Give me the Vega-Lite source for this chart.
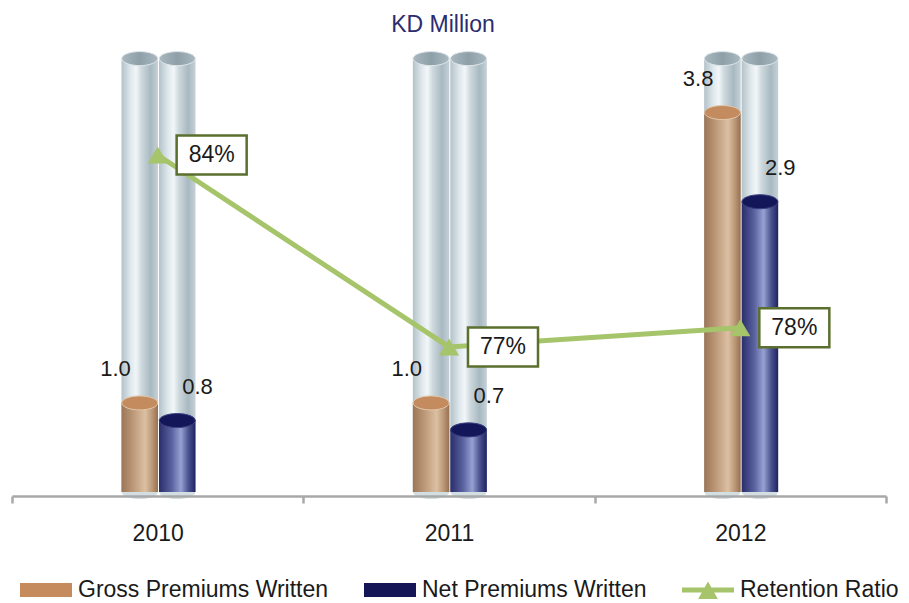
{
  "$schema": "https://vega.github.io/schema/vega-lite/v6.json",
  "width": 874,
  "height": 445,
  "autosize": "none",
  "padding": {"left": 12, "top": 47, "right": 23, "bottom": 111},
  "background": "white",
  "config": {"font": "Liberation Sans", "view": {"stroke": null}},
  "title": {"text": "KD Million", "fontSize": 23, "fontWeight": "normal", "color": "#2b2c6e", "anchor": "middle", "baseline": "alphabetic", "frame": "group", "offset": 14, "dx": -6, "dy": 22},
  "datasets": {
    "premiums": [
      {"year": "2010", "series": "Gross Premiums Written", "value": 1.0},
      {"year": "2010", "series": "Net Premiums Written", "value": 0.83},
      {"year": "2011", "series": "Gross Premiums Written", "value": 1.0},
      {"year": "2011", "series": "Net Premiums Written", "value": 0.74},
      {"year": "2012", "series": "Gross Premiums Written", "value": 3.8},
      {"year": "2012", "series": "Net Premiums Written", "value": 2.94}
    ],
    "retention": [
      {"year": "2010", "ratio": 0.84},
      {"year": "2011", "ratio": 0.77},
      {"year": "2012", "ratio": 0.777}
    ]
  },
  "layer": [
    {
      "data": {"name": "premiums"},
      "encoding": {
        "x": {"field": "year", "type": "nominal", "scale": {"paddingInner": 0, "paddingOuter": 0},
          "axis": {"title": null, "labelAngle": 0, "labelFontSize": 23, "labelColor": "#1a1a1a", "labelBaseline": "alphabetic", "labelPadding": 37, "domainColor": "#a8a8a8", "domainWidth": 2.5, "tickColor": "#a8a8a8", "tickWidth": 2.5, "tickSize": 7, "tickBand": "extent", "offset": 4, "zindex": 1}},
        "xOffset": {"field": "series", "type": "nominal", "scale": {"range": [109.5, 183.5], "paddingInner": 0.027, "paddingOuter": 0}}
      },
      "layer": [
        {
          "mark": {"type": "bar", "fill": {"gradient": "linear", "x1": 0, "y1": 0, "x2": 1, "y2": 0, "stops": [
            {"offset": 0, "color": "#b3c2c9"}, {"offset": 0.25, "color": "#dfe8ec"}, {"offset": 0.4, "color": "#f2f6f8"}, {"offset": 0.55, "color": "#ccd8dd"}, {"offset": 0.8, "color": "#a9b9c1"}, {"offset": 1, "color": "#c5d1d7"}]}},
          "encoding": {
            "y": {"datum": 4.32, "type": "quantitative", "scale": {"domain": [0.141, 4.432], "nice": false, "zero": false}, "axis": null},
            "y2": {"datum": 0.141}
          }
        },
        {
          "mark": {"type": "point", "shape": "M-1,0 C-1,-0.215 -0.552,-0.39 0,-0.39 C0.552,-0.39 1,-0.215 1,0 C1,0.215 0.552,0.39 0,0.39 C-0.552,0.39 -1,0.215 -1,0 Z", "size": 1296, "filled": true, "fill": "#d3dee3", "opacity": 1, "strokeWidth": 0},
          "encoding": {"y": {"datum": 0.141, "type": "quantitative"}}
        },
        {
          "mark": {"type": "point", "shape": "M-1,0 C-1,-0.215 -0.552,-0.39 0,-0.39 C0.552,-0.39 1,-0.215 1,0 C1,0.215 0.552,0.39 0,0.39 C-0.552,0.39 -1,0.215 -1,0 Z", "size": 1296, "filled": true, "opacity": 1, "stroke": "#dfe7ea", "strokeWidth": 1,
            "fill": {"gradient": "linear", "x1": 0, "y1": 0, "x2": 1, "y2": 0, "stops": [{"offset": 0, "color": "#a9b8bf"}, {"offset": 0.5, "color": "#8e9fa8"}, {"offset": 1, "color": "#aab9c0"}]}},
          "encoding": {"y": {"datum": 4.32, "type": "quantitative"}}
        },
        {
          "transform": [{"filter": "datum.series === 'Gross Premiums Written'"}],
          "mark": {"type": "bar", "fill": {"gradient": "linear", "x1": 0, "y1": 0, "x2": 1, "y2": 0, "stops": [
            {"offset": 0, "color": "#9b7656"}, {"offset": 0.35, "color": "#bf9c7c"}, {"offset": 0.65, "color": "#dcc0a3"}, {"offset": 0.85, "color": "#b99574"}, {"offset": 1, "color": "#957052"}]}},
          "encoding": {"y": {"field": "value", "type": "quantitative"}, "y2": {"datum": 0.141}}
        },
        {
          "transform": [{"filter": "datum.series === 'Net Premiums Written'"}],
          "mark": {"type": "bar", "fill": {"gradient": "linear", "x1": 0, "y1": 0, "x2": 1, "y2": 0, "stops": [
            {"offset": 0, "color": "#2a2d6a"}, {"offset": 0.35, "color": "#5a62a0"}, {"offset": 0.6, "color": "#97a1d2"}, {"offset": 0.8, "color": "#4d5590"}, {"offset": 1, "color": "#1f2262"}]}},
          "encoding": {"y": {"field": "value", "type": "quantitative"}, "y2": {"datum": 0.141}}
        },
        {
          "transform": [{"filter": "datum.series === 'Gross Premiums Written'"}],
          "mark": {"type": "point", "shape": "M-1,0 C-1,-0.215 -0.552,-0.39 0,-0.39 C0.552,-0.39 1,-0.215 1,0 C1,0.215 0.552,0.39 0,0.39 C-0.552,0.39 -1,0.215 -1,0 Z", "size": 1296, "filled": true, "fill": "#c38b5e", "opacity": 1, "stroke": "#e2c9ae", "strokeWidth": 1},
          "encoding": {"y": {"field": "value", "type": "quantitative"}}
        },
        {
          "transform": [{"filter": "datum.series === 'Net Premiums Written'"}],
          "mark": {"type": "point", "shape": "M-1,0 C-1,-0.215 -0.552,-0.39 0,-0.39 C0.552,-0.39 1,-0.215 1,0 C1,0.215 0.552,0.39 0,0.39 C-0.552,0.39 -1,0.215 -1,0 Z", "size": 1296, "filled": true, "fill": "#14165a", "opacity": 1, "stroke": "#3b4080", "strokeWidth": 1},
          "encoding": {"y": {"field": "value", "type": "quantitative"}}
        },
        {
          "transform": [{"filter": "false"}],
          "mark": {"type": "point", "filled": true, "opacity": 1, "size": 2704},
          "encoding": {
            "y": {"field": "value", "type": "quantitative"},
            "color": {"field": "series", "type": "nominal",
              "scale": {"domain": ["Gross Premiums Written", "Net Premiums Written", "Retention Ratio"], "range": ["#c58b5d", "#141655", "#a6c46a"]},
              "legend": {"title": null, "orient": "none", "legendX": 8, "legendY": 517, "direction": "horizontal", "columns": 3, "symbolSize": 2704, "labelFontSize": 23, "labelColor": "#1a1a1a", "labelLimit": 400, "labelOffset": 6, "columnPadding": 35, "padding": 0, "symbolStrokeWidth": 0, "symbolOpacity": 1}},
            "shape": {"field": "series", "type": "nominal",
              "scale": {"domain": ["Gross Premiums Written", "Net Premiums Written", "Retention Ratio"], "range": ["M-1,-0.27 L1,-0.27 L1,0.27 L-1,0.27 Z", "M-1,-0.27 L1,-0.27 L1,0.27 L-1,0.27 Z", "M-1,-0.1 L1,-0.1 L1,0.1 L-1,0.1 Z M0,-0.33 L0.38,0.35 L-0.38,0.35 Z"]},
              "legend": {"title": null, "orient": "none", "legendX": 8, "legendY": 517, "direction": "horizontal", "columns": 3, "symbolSize": 2704, "labelFontSize": 23, "labelColor": "#1a1a1a", "labelLimit": 400, "labelOffset": 6, "columnPadding": 35, "padding": 0, "symbolStrokeWidth": 0, "symbolOpacity": 1}}
          }
        },
        {
          "transform": [{"filter": "datum.series === 'Gross Premiums Written'"}],
          "mark": {"type": "text", "align": "right", "baseline": "alphabetic", "dx": -9, "dy": -27, "fontSize": 22, "color": "#1a1a1a"},
          "encoding": {"y": {"field": "value", "type": "quantitative"}, "text": {"field": "value", "type": "quantitative", "format": ".1f"}}
        },
        {
          "transform": [{"filter": "datum.series === 'Net Premiums Written'"}],
          "mark": {"type": "text", "align": "left", "baseline": "alphabetic", "dx": 5, "dy": -27, "fontSize": 22, "color": "#1a1a1a"},
          "encoding": {"y": {"field": "value", "type": "quantitative"}, "text": {"field": "value", "type": "quantitative", "format": ".1f"}}
        }
      ]
    },
    {
      "data": {"name": "retention"},
      "encoding": {
        "x": {"field": "year", "type": "nominal"},
        "y": {"field": "ratio", "type": "quantitative", "scale": {"domain": [0.7171, 0.8794], "nice": false, "zero": false}, "axis": null}
      },
      "layer": [
        {"mark": {"type": "line", "color": "#a6c46a", "strokeWidth": 5}},
        {"mark": {"type": "point", "shape": "M0,-0.85 L1,0.85 L-1,0.85 Z", "size": 400, "filled": true, "color": "#a6c46a", "opacity": 1}},
        {"mark": {"type": "point", "shape": "M0.974,-1 L4.564,-1 L4.564,1 L0.974,1 Z", "size": 1521, "filled": true, "fill": "white", "stroke": "#5b6f2e", "strokeWidth": 2.5, "opacity": 1}},
        {"mark": {"type": "text", "dx": 54, "align": "center", "baseline": "middle", "fontSize": 23, "color": "#1a1a1a"},
          "encoding": {"text": {"field": "ratio", "type": "quantitative", "format": ".0%"}}}
      ]
    }
  ],
  "resolve": {"scale": {"y": "independent"}}
}
